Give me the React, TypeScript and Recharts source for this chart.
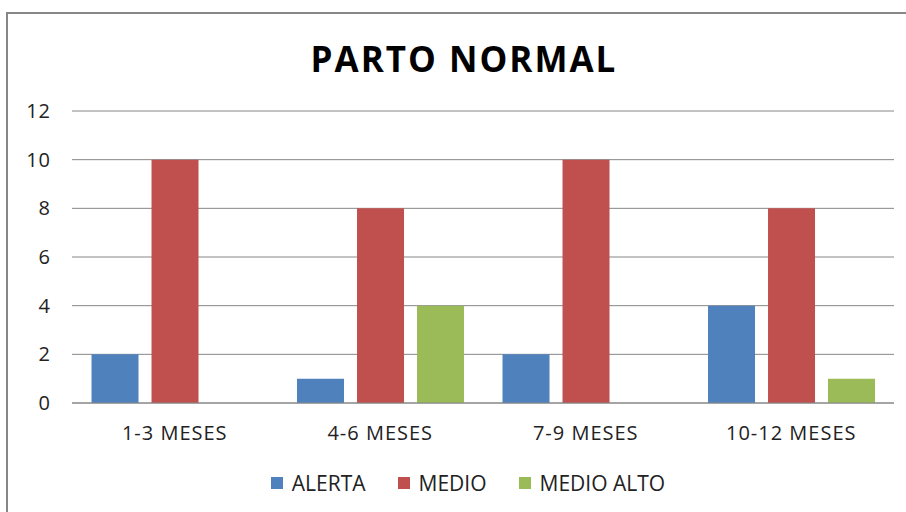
import React from 'react';
import { BarChart, Bar, XAxis, YAxis, CartesianGrid, Legend } from 'recharts';

// Chart data
const categories = ['1-3 MESES', '4-6 MESES', '7-9 MESES', '10-12 MESES'];
const alerta = [2, 1, 2, 4];
const medio = [10, 8, 10, 8];
const medioAlto = [0, 4, 0, 1];
const yTicks = [0, 2, 4, 6, 8, 10, 12];

const seriesNames = ['ALERTA', 'MEDIO', 'MEDIO ALTO'];
const colors = ['#4F81BD', '#C0504D', '#9BBB59'];

const data = categories.map((c, i) => ({
  name: c,
  ALERTA: alerta[i],
  MEDIO: medio[i],
  'MEDIO ALTO': medioAlto[i],
}));

const font = '"Open Sans", Lato, sans-serif';
const tickStyle = { fontFamily: font, fontSize: 20, fill: '#222', letterSpacing: 1 };

const renderLegend = () => (
  <div
    style={{
      display: 'flex',
      justifyContent: 'center',
      fontFamily: font,
      fontSize: 21,
      lineHeight: '24px',
      color: '#222',
      paddingLeft: 30,
    }}
  >
    {seriesNames.map((n, i) => (
      <span key={n} style={{ display: 'inline-flex', alignItems: 'center', marginRight: i < 2 ? 32 : 0 }}>
        <span style={{ width: 12, height: 12, background: colors[i], marginRight: 9, display: 'inline-block' }} />
        {n}
      </span>
    ))}
  </div>
);

const App: React.FC = () => {
  return (
    <div style={{ position: 'fixed', left: 0, top: 0, width: 906, height: 512, overflow: 'hidden', background: '#fff' }}>
      <div
        style={{
          position: 'absolute',
          left: 0,
          width: 928,
          top: 35,
          textAlign: 'center',
          fontFamily: font,
          fontWeight: 700,
          fontSize: 35,
          letterSpacing: 2,
          color: '#000',
        }}
      >
        PARTO NORMAL
      </div>
      <div style={{ position: 'absolute', left: 0, top: 0 }}>
        <BarChart
          width={906}
          height={512}
          data={data}
          margin={{ top: 111, right: 12, left: 12, bottom: 0 }}
          barGap={13}
          barCategoryGap="9.5%"
        >
          <CartesianGrid vertical={false} stroke="#868686" />
          <XAxis
            dataKey="name"
            axisLine={{ stroke: '#868686' }}
            tickLine={false}
            tickSize={0}
            tickMargin={23}
            height={85}
            tick={tickStyle}
          />
          <YAxis
            width={60}
            domain={[0, 12]}
            ticks={yTicks}
            axisLine={false}
            tickLine={false}
            tickSize={0}
            tickMargin={21}
            tick={tickStyle}
          />
          <Legend
            content={renderLegend}
            wrapperStyle={{ position: 'absolute', top: 471, left: 0, width: 906 }}
          />
          {seriesNames.map((n, i) => (
            <Bar key={n} dataKey={n} fill={colors[i]} isAnimationActive={false} />
          ))}
        </BarChart>
      </div>
      {/* chart frame: top and left edges */}
      <div style={{ position: 'absolute', left: 6, top: 12, width: 900, height: 2, background: '#878787' }} />
      <div style={{ position: 'absolute', left: 6, top: 12, width: 2, height: 500, background: '#878787' }} />
    </div>
  );
};

export default App;
